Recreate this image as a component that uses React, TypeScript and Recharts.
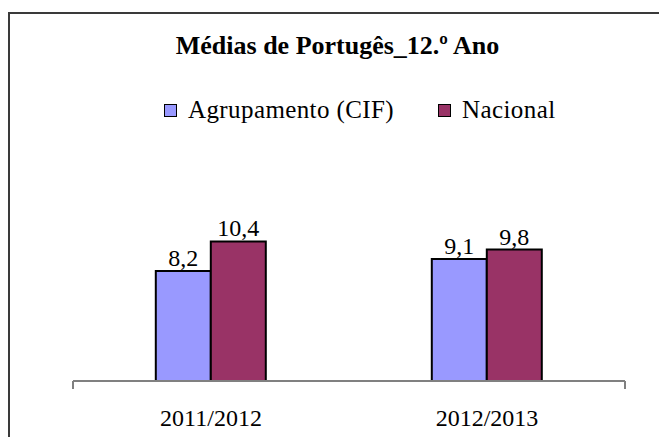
import React from "react";
import { Bar, BarChart, LabelList, XAxis, YAxis } from "recharts";

const categories = ["2011/2012", "2012/2013"];
const agrupamento = [8.2, 9.1];
const nacional = [10.4, 9.8];
const seriesNames = ["Agrupamento (CIF)", "Nacional"];
const seriesColors = ["#9999FF", "#993366"];
const edgeTicks = [0, 1, 2];

const serif = "Liberation Serif";

const data = categories.map((name, i) => ({
  name,
  agrupamento: agrupamento[i],
  nacional: nacional[i],
}));

const fmt = (v: any) => String(v).replace(".", ",");

export default function App() {
  return (
    <div
      style={{
        position: "absolute",
        left: 0,
        top: 0,
        width: 659,
        height: 437,
        overflow: "hidden",
        background: "#fff",
        fontFamily: serif,
      }}
    >
      <div
        style={{
          position: "absolute",
          left: 8,
          top: 12,
          width: 720,
          height: 520,
          border: "2px solid #3a3a3a",
        }}
      />
      <div
        style={{
          position: "absolute",
          left: 0,
          top: 33,
          width: 675,
          textAlign: "center",
          fontSize: 26,
          lineHeight: "26px",
          fontWeight: "bold",
        }}
      >
        Médias de Portugês_12.º Ano
      </div>
      <div
        style={{
          position: "absolute",
          left: 164,
          top: 97,
          height: 26,
          display: "flex",
          alignItems: "center",
          fontSize: 25,
          lineHeight: "26px",
          letterSpacing: 0.4,
        }}
      >
        {seriesNames.map((n, i) => (
          <div key={n} style={{ display: "flex", alignItems: "center", marginRight: 44 }}>
            <span
              style={{
                width: 11,
                height: 11,
                background: seriesColors[i],
                border: "1.5px solid #000",
                marginRight: 11,
              }}
            />
            <span>{n}</span>
          </div>
        ))}
      </div>
      <BarChart
        width={659}
        height={437}
        data={data}
        margin={{ top: 220, right: 34, bottom: 15, left: 73 }}
        barCategoryGap="30%"
        barGap={0}
        style={{ position: "absolute", left: 0, top: 0 }}
      >
        {/* boundary ticks between categories, like the source chart */}
        <XAxis
          xAxisId={0}
          type="number"
          domain={[0, 2]}
          ticks={edgeTicks}
          allowDataOverflow
          height={1}
          tickFormatter={() => ""}
          tickSize={8}
          axisLine={{ stroke: "#808080", strokeWidth: 2 }}
          tickLine={{ stroke: "#808080", strokeWidth: 2 }}
        />
        <XAxis
          xAxisId={1}
          dataKey="name"
          height={40}
          axisLine={false}
          tickLine={false}
          tickSize={0}
          tickMargin={27}
          tick={{ fill: "#000", fontSize: 24, fontFamily: serif }}
        />
        <YAxis hide domain={[0, 12]} />
        <Bar
          xAxisId={1}
          dataKey="agrupamento"
          name={seriesNames[0]}
          fill={seriesColors[0]}
          stroke="#000"
          strokeWidth={2}
          isAnimationActive={false}
        >
          <LabelList
            dataKey="agrupamento"
            position="top"
            offset={5}
            formatter={fmt}
            style={{ fill: "#000", fontSize: 24, fontFamily: serif }}
          />
        </Bar>
        <Bar
          xAxisId={1}
          dataKey="nacional"
          name={seriesNames[1]}
          fill={seriesColors[1]}
          stroke="#000"
          strokeWidth={2}
          isAnimationActive={false}
        >
          <LabelList
            dataKey="nacional"
            position="top"
            offset={5}
            formatter={fmt}
            style={{ fill: "#000", fontSize: 24, fontFamily: serif }}
          />
        </Bar>
      </BarChart>
    </div>
  );
}
